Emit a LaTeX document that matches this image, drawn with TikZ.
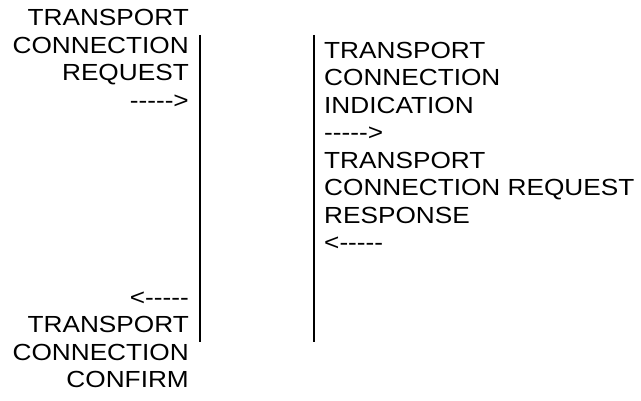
\documentclass[tikz,border=0pt]{standalone}
\usepackage{fontspec}
\setmainfont[FakeStretch=1.125, Ligatures=TeXOff]{Liberation Sans}
\begin{document}
\begin{tikzpicture}[x=1pt,y=-1pt,
  txt/.style={inner sep=0pt, font=\fontsize{23.3pt}{27.5pt}\selectfont},
  lefttxt/.style={txt, anchor=base east},
  righttxt/.style={txt, anchor=base west},
  lifeline/.style={line width=2pt}]
\useasboundingbox (0,0) rectangle (641,401);

% two vertical boundary lines
\coordinate (lt) at (200,35);
\coordinate (lb) at (200,342);
\coordinate (rt) at (314.3,35);
\coordinate (rb) at (314.3,342);
\draw[lifeline] (lt) -- (lb);
\draw[lifeline] (rt) -- (rb);

% left side: request and confirm
\node[lefttxt] (lreq1) at (189,26)    {TRANSPORT};
\node[lefttxt] (lreq2) at (189,53.5)  {CONNECTION};
\node[lefttxt] (lreq3) at (189,81)    {REQUEST};
\node[lefttxt] (lreq4) at (189,108.5) {----->};
\node[lefttxt] (lcon1) at (189,305.5) {<-----};
\node[lefttxt] (lcon2) at (189,333)   {TRANSPORT};
\node[lefttxt] (lcon3) at (189,360.5) {CONNECTION};
\node[lefttxt] (lcon4) at (189,388)   {CONFIRM};

% right side: indication and response
\node[righttxt] (rind1) at (324,58.5)  {TRANSPORT};
\node[righttxt] (rind2) at (324,86)    {CONNECTION};
\node[righttxt] (rind3) at (324,113.5) {INDICATION};
\node[righttxt] (rind4) at (324,141)   {----->};
\node[righttxt] (rres1) at (324,168.5) {TRANSPORT};
\node[righttxt] (rres2) at (324,196)   {CONNECTION REQUEST};
\node[righttxt] (rres3) at (324,223.5) {RESPONSE};
\node[righttxt] (rres4) at (324,251)   {<-----};
\end{tikzpicture}
\end{document}
